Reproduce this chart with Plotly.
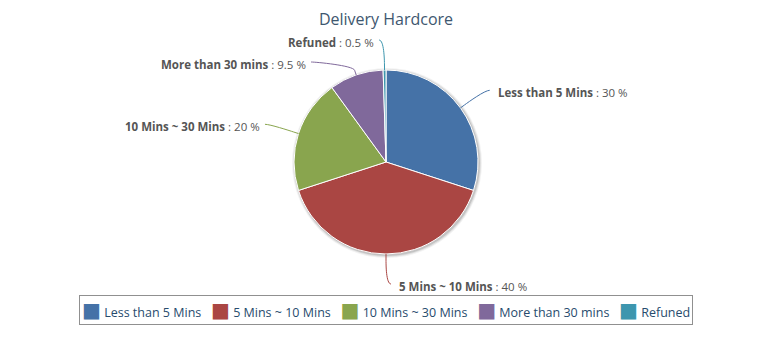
import math
import plotly.graph_objects as go

# ---- data ----
labels = ["Less than 5 Mins", "5 Mins ~ 10 Mins", "10 Mins ~ 30 Mins", "More than 30 mins", "Refuned"]
values = [30, 40, 20, 9.5, 0.5]
colors = ["#4572A7", "#AA4643", "#89A54E", "#80699B", "#3D96AE"]
title_text = "Delivery Hardcore"

# ---- layout constants (pixels) ----
W, H = 772, 340
CX, CY, R = 386, 162, 92
DIST = 30
FONT = "Open Sans, Noto Sans, sans-serif"


def px(x):
    return x / W


def py(y):
    return 1 - y / H


fig = go.Figure()

# soft shadow behind the pie
for grow, dx, alpha in [(3, 1, 0.05), (2, 1, 0.08), (1, 1, 0.12)]:
    r = R + grow
    fig.add_trace(go.Pie(
        values=[1], labels=["_shadow"], sort=False, showlegend=False,
        textinfo="none", hoverinfo="skip",
        marker=dict(colors=[f"rgba(0,0,0,{alpha})"], line=dict(width=0)),
        domain=dict(x=[px(CX + dx - r), px(CX + dx + r)],
                    y=[py(CY + dx + r), py(CY + dx - r)]),
    ))

fig.add_trace(go.Pie(
    labels=labels, values=values, sort=False, direction="clockwise", rotation=0,
    textinfo="none", hovertemplate="%{label}: %{value} %<extra></extra>",
    marker=dict(colors=colors, line=dict(color="white", width=1)),
    domain=dict(x=[px(CX - R), px(CX + R)], y=[py(CY + R), py(CY - R)]),
    showlegend=False,
))

# ---- data labels with connectors (Highcharts style) ----
total = sum(values)
cum = 0
items = []
for name, v, c in zip(labels, values, colors):
    a = (cum + v / 2) / total * 2 * math.pi
    cum += v
    sx, sy = math.sin(a), -math.cos(a)
    right = a <= math.pi + 1e-9
    items.append(dict(name=name, v=v, c=c, a=a, sx=sx, sy=sy, right=right,
                      ly=CY + (R + DIST) * sy))

RL = R + DIST
for side in (True, False):
    grp = sorted([it for it in items if it["right"] == side], key=lambda d: d["ly"])
    prev = None
    for it in grp:
        if prev is not None and it["ly"] < prev + 22:
            it["ly"] = prev + 22
        prev = it["ly"]

shapes = []
annotations = []
for it in items:
    dy = it["ly"] - CY
    dxl = math.sqrt(max(0.0, RL * RL - dy * dy))
    lx = CX + dxl if it["right"] else CX - dxl
    ly = it["ly"]
    ex, ey = CX + R * it["sx"], CY + R * it["sy"]
    bx, by = CX + (R + 5) * it["sx"], CY + (R + 5) * it["sy"]
    sgn = 1 if it["right"] else -1
    x0 = lx + 5 * sgn
    path = (f"M {px(x0)},{py(ly)} C {px(lx)},{py(ly)} {px(2*bx-ex)},{py(2*by-ey)} "
            f"{px(bx)},{py(by)} L {px(ex)},{py(ey)}")
    shapes.append(dict(type="path", path=path, xref="paper", yref="paper",
                       line=dict(color=it["c"], width=1)))
    tx = lx + (11 if it["right"] else -8)
    annotations.append(dict(
        x=px(tx), y=py(ly + 2), xref="paper", yref="paper", showarrow=False,
        xanchor="left" if it["right"] else "right", yanchor="middle",
        text=f"<b>{it['name']}</b> : {it['v']:g} %",
        font=dict(family=FONT, size=11.5, color="#555555"),
    ))

# ---- legend (Highcharts-like compact horizontal legend) ----
sq = "<span style='font-family:DejaVu Sans;font-size:20px;color:{c}'>■</span>"
legend_text = "&nbsp;&nbsp;&nbsp;".join(
    sq.format(c=c) + "&nbsp;" + name for name, c in zip(labels, colors))
annotations.append(dict(
    x=0.5, y=py(310), xref="paper", yref="paper", showarrow=False,
    xanchor="center", yanchor="middle",
    text=legend_text,
    font=dict(family=FONT, size=12.5, color="#274b6d"),
    bordercolor="#909090", borderwidth=1, borderpad=2, bgcolor="white",
))

fig.update_layout(
    width=W, height=H,
    margin=dict(l=0, r=0, t=0, b=0),
    paper_bgcolor="white", plot_bgcolor="white",
    title=dict(text=title_text, x=0.5, xanchor="center", y=py(19), yanchor="middle",
               font=dict(family=FONT, size=16, color="#3E576F")),
    shapes=shapes,
    annotations=annotations,
    showlegend=False,
    font=dict(family=FONT),
)

fig.write_html("out.html")
